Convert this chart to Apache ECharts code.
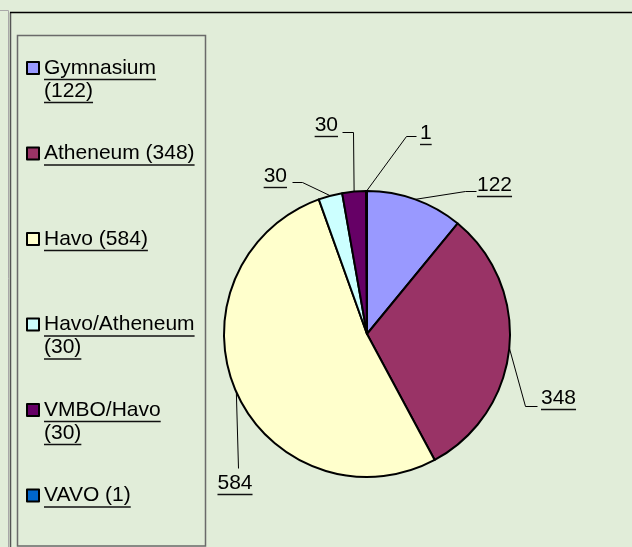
<!DOCTYPE html>
<html>
<head>
<meta charset="utf-8">
<script src="https://cdn.jsdelivr.net/npm/echarts@6/dist/echarts.min.js"></script>
<style>
html,body{margin:0;padding:0;background:#E1EDD9;}
#chart{width:632px;height:547px;}
</style>
</head>
<body>
<div id="chart"></div>
<script>
// ---- data ----
const categories = ['Gymnasium', 'Atheneum', 'Havo', 'Havo/Atheneum', 'VMBO/Havo', 'VAVO'];
const values = [122, 348, 584, 30, 30, 1];
const legendWrap = [true, false, false, true, true, false];
const colors = ['#9999FF', '#993366', '#FFFFCC', '#CCFFFF', '#660066', '#0066CC'];

// label placement relative to each slice's edge anchor: [line point 1], [line point 2], [label pos], align
const labelPlace = [
  { p1: [49.8, -8.4], p2: [60.8, -8.4], l: [61.8, -13.4], a: 'left' },
  { p1: [15.7, 57.7], p2: [27.7, 57.7], l: [31.7, 51], a: 'left' },
  { p1: [1.3, 75.8], p2: [1.3, 75.8], l: [-1.4, 91.8], a: 'center' },
  { p1: [-28.2, -13.8], p2: [-38.2, -13.8], l: [-43.2, -18.8], a: 'right' },
  { p1: [-1, -59.6], p2: [-12, -59.6], l: [-16, -65.1], a: 'right' },
  { p1: [39.5, -55], p2: [49.5, -55], l: [53.5, -57.5], a: 'left' }
];

const FONT = '"Liberation Sans", Arial, sans-serif';
const FS = 21;
const rich = {
  t: { fontFamily: FONT, fontSize: FS, color: '#000', lineHeight: 20 },
  u: { fontFamily: FONT, fontSize: FS, color: 'transparent', backgroundColor: '#111', height: 1.4, lineHeight: 3 },
  e: { fontFamily: FONT, fontSize: FS, color: 'transparent', lineHeight: 3 }
};

function ul(s) { return '{t|' + s + '}\n{u|' + s + '}'; }

const chart = echarts.init(document.getElementById('chart'), null, { renderer: 'canvas' });
chart.setOption({
  animation: false,
  backgroundColor: '#E1EDD9',
  graphic: [
    { type: 'polyline', silent: true, shape: { points: [[0, 10.5], [8.5, 10.5], [8.5, 547]] }, style: { stroke: '#A8A8A8', lineWidth: 1, fill: null } },
    { type: 'line', silent: true, shape: { x1: 10.5, y1: 12.5, x2: 10.5, y2: 547 }, style: { stroke: '#555', lineWidth: 1.5 } },
    { type: 'line', silent: true, shape: { x1: 10, y1: 12.5, x2: 632, y2: 12.5 }, style: { stroke: '#000', lineWidth: 1.5 } },
    { type: 'rect', silent: true, shape: { x: 17.5, y: 35.5, width: 188, height: 510.5 }, style: { stroke: '#6A6A6A', lineWidth: 1.5, fill: null } }
  ],
  legend: {
    orient: 'vertical',
    left: 26,
    top: 57.5,
    padding: 0,
    itemGap: 30,
    itemWidth: 12,
    itemHeight: 12,
    icon: 'rect',
    itemStyle: { borderColor: '#000', borderWidth: 2 },
    selectedMode: false,
    data: categories,
    formatter: function (name) {
      const i = categories.indexOf(name);
      const v = '(' + values[i] + ')';
      if (legendWrap[i]) return ul(name) + '\n' + ul(v);
      return ul(name + ' ' + v) + '\n{t| }\n{e| }';
    },
    textStyle: { fontFamily: FONT, fontSize: FS, color: '#000', padding: [26, 0, 0, 0], rich: rich }
  },
  series: [{
    type: 'pie',
    center: [367, 334],
    radius: 143,
    startAngle: 90,
    clockwise: true,
    avoidLabelOverlap: false,
    silent: true,
    color: colors,
    itemStyle: { borderColor: '#000', borderWidth: 2 },
    emphasis: { disabled: true },
    label: {
      show: true,
      position: 'outside',
      formatter: function (p) { return ul(String(p.value)); },
      rich: rich,
      fontFamily: FONT,
      fontSize: FS,
      color: '#000'
    },
    labelLine: { show: true, length: 10, length2: 10, lineStyle: { color: '#000', width: 1 } },
    labelLayout: function (params) {
      const pl = labelPlace[params.dataIndex];
      const a = params.labelLinePoints[0];
      const ex = Math.round(a[0] + pl.p2[0]) + 0.5;
      const ey = Math.round(a[1] + pl.p2[1]) + 0.5;
      return {
        x: Math.round(a[0] + pl.l[0]),
        y: Math.round(a[1] + pl.l[1]) + 0.5,
        align: pl.a,
        verticalAlign: 'middle',
        labelLinePoints: [
          [a[0], a[1]],
          [Math.round(a[0] + pl.p1[0]) + 0.5, Math.round(a[1] + pl.p1[1]) + 0.5],
          [ex, ey]
        ]
      };
    },
    data: categories.map(function (c, i) { return { name: c, value: values[i] }; })
  }]
});
</script>
</body>
</html>
